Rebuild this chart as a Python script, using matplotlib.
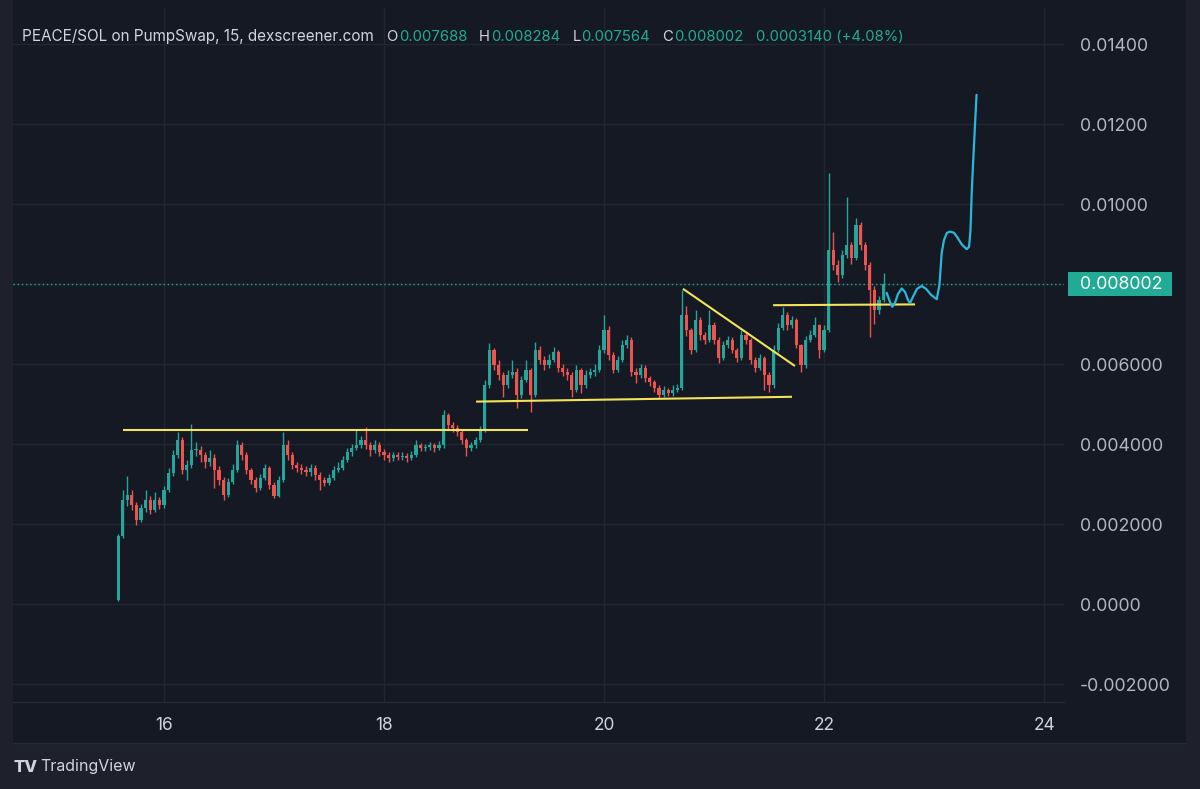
import numpy as np
import matplotlib
matplotlib.use("Agg")
import matplotlib.pyplot as plt
from matplotlib.patches import Rectangle
from matplotlib.transforms import blended_transform_factory

plt.rcParams['font.family'] = ['Inter', 'DejaVu Sans']

#region style
W, H = 1200, 789
BG_OUTER = '#1e212b'
BG_PANE = '#151924'
BORDER = '#262a35'
GRID = '#222631'
TEXT = '#d1d4dc'
AXIS_TEXT = '#b2b5be'
UP = '#26a69a'
DOWN = '#ef5350'
GREEN = '#22ab94'
YELLOW = '#f2e35b'
CYAN = '#2bb7d9'
#endregion

#region data
START_DAY = 15.58          # first hourly candle
FIRST_OPEN = 0.00010

closes = [
    0.00170, 0.00260, 0.00273, 0.00248, 0.00211, 0.00241, 0.00261, 0.00236, 0.00261, 0.00248,
    0.00286, 0.00329, 0.00373, 0.00411, 0.00336, 0.00348, 0.00386, 0.00386, 0.00373, 0.00356,
    0.00366, 0.00336, 0.00311, 0.00274, 0.00306, 0.00336, 0.00398, 0.00373, 0.00336, 0.00311,
    0.00291, 0.00316, 0.00341, 0.00298, 0.00271, 0.00311, 0.00398, 0.00373, 0.00348, 0.00341,
    0.00336, 0.00331, 0.00341, 0.00323, 0.00311, 0.00303, 0.00316, 0.00336, 0.00341, 0.00361,
    0.00381, 0.00391, 0.00398, 0.00411, 0.00398, 0.00386, 0.00398, 0.00381, 0.00373, 0.00366,
    0.00373, 0.00368, 0.00371, 0.00366, 0.00373, 0.00398, 0.00391, 0.00393, 0.00398, 0.00391,
    0.00398, 0.00473, 0.00448, 0.00441, 0.00431, 0.00411, 0.00391, 0.00398, 0.00411, 0.00436,
    0.00548, 0.00636, 0.00598, 0.00573, 0.00548, 0.00573, 0.00581, 0.00523, 0.00561, 0.00586,
    0.00523, 0.00636, 0.00611, 0.00598, 0.00611, 0.00631, 0.00591, 0.00581, 0.00573, 0.00536,
    0.00586, 0.00548, 0.00573, 0.00581, 0.00586, 0.00636, 0.00686, 0.00623, 0.00586, 0.00611,
    0.00648, 0.00661, 0.00581, 0.00573, 0.00591, 0.00566, 0.00556, 0.00541, 0.00523, 0.00536,
    0.00528, 0.00536, 0.00541, 0.00723, 0.00686, 0.00636, 0.00711, 0.00673, 0.00661, 0.00698,
    0.00661, 0.00616, 0.00648, 0.00661, 0.00636, 0.00616, 0.00673, 0.00661, 0.00611, 0.00591,
    0.00616, 0.00573, 0.00548, 0.00636, 0.00691, 0.00723, 0.00698, 0.00711, 0.00648, 0.00598,
    0.00661, 0.00673, 0.00698, 0.00636, 0.00686, 0.00886, 0.00848, 0.00823, 0.00873, 0.00898,
    0.00866, 0.00948, 0.00898, 0.00848, 0.00786, 0.00736, 0.00761, 0.00800,
]

highs = [
    0.00175, 0.00285, 0.00320, 0.00285, 0.00255, 0.00250, 0.00286, 0.00270, 0.00280, 0.00268,
    0.00295, 0.00340, 0.00385, 0.00430, 0.00418, 0.00360, 0.00450, 0.00405, 0.00395, 0.00380,
    0.00385, 0.00375, 0.00345, 0.00318, 0.00315, 0.00350, 0.00412, 0.00405, 0.00380, 0.00342,
    0.00318, 0.00325, 0.00352, 0.00345, 0.00305, 0.00320, 0.00430, 0.00410, 0.00380, 0.00356,
    0.00352, 0.00345, 0.00350, 0.00348, 0.00330, 0.00318, 0.00325, 0.00345, 0.00355, 0.00370,
    0.00392, 0.00402, 0.00436, 0.00422, 0.00444, 0.00405, 0.00410, 0.00405, 0.00388, 0.00380,
    0.00382, 0.00380, 0.00380, 0.00378, 0.00383, 0.00412, 0.00404, 0.00402, 0.00406, 0.00404,
    0.00408, 0.00486, 0.00478, 0.00455, 0.00448, 0.00436, 0.00415, 0.00405, 0.00418, 0.00445,
    0.00560, 0.00653, 0.00642, 0.00610, 0.00580, 0.00585, 0.00611, 0.00590, 0.00570, 0.00611,
    0.00592, 0.00656, 0.00645, 0.00620, 0.00625, 0.00643, 0.00636, 0.00600, 0.00590, 0.00580,
    0.00598, 0.00592, 0.00585, 0.00592, 0.00600, 0.00648, 0.00723, 0.00695, 0.00630, 0.00622,
    0.00660, 0.00673, 0.00668, 0.00592, 0.00600, 0.00598, 0.00572, 0.00562, 0.00548, 0.00545,
    0.00542, 0.00548, 0.00552, 0.00786, 0.00745, 0.00692, 0.00736, 0.00718, 0.00680, 0.00736,
    0.00705, 0.00668, 0.00658, 0.00672, 0.00668, 0.00642, 0.00686, 0.00680, 0.00666, 0.00618,
    0.00625, 0.00622, 0.00580, 0.00648, 0.00703, 0.00743, 0.00730, 0.00722, 0.00716, 0.00652,
    0.00672, 0.00685, 0.00718, 0.00702, 0.00698, 0.01078, 0.00930, 0.00860, 0.00885, 0.01018,
    0.00905, 0.00966, 0.00955, 0.00905, 0.00855, 0.00795, 0.00772, 0.00828,
]

lows = [
    0.00008, 0.00165, 0.00245, 0.00235, 0.00198, 0.00205, 0.00232, 0.00225, 0.00230, 0.00238,
    0.00242, 0.00280, 0.00320, 0.00365, 0.00325, 0.00310, 0.00340, 0.00370, 0.00355, 0.00340,
    0.00345, 0.00290, 0.00298, 0.00262, 0.00268, 0.00300, 0.00330, 0.00360, 0.00325, 0.00300,
    0.00280, 0.00285, 0.00310, 0.00288, 0.00265, 0.00268, 0.00305, 0.00360, 0.00338, 0.00330,
    0.00325, 0.00320, 0.00322, 0.00312, 0.00286, 0.00295, 0.00298, 0.00310, 0.00330, 0.00335,
    0.00355, 0.00372, 0.00385, 0.00390, 0.00388, 0.00372, 0.00378, 0.00372, 0.00362, 0.00356,
    0.00358, 0.00360, 0.00360, 0.00356, 0.00360, 0.00368, 0.00383, 0.00384, 0.00386, 0.00382,
    0.00385, 0.00392, 0.00436, 0.00430, 0.00420, 0.00402, 0.00370, 0.00384, 0.00392, 0.00405,
    0.00430, 0.00540, 0.00585, 0.00560, 0.00518, 0.00540, 0.00565, 0.00490, 0.00515, 0.00555,
    0.00480, 0.00518, 0.00600, 0.00585, 0.00590, 0.00605, 0.00580, 0.00570, 0.00560, 0.00518,
    0.00530, 0.00528, 0.00540, 0.00565, 0.00572, 0.00580, 0.00628, 0.00612, 0.00578, 0.00580,
    0.00605, 0.00640, 0.00572, 0.00553, 0.00565, 0.00555, 0.00545, 0.00530, 0.00515, 0.00518,
    0.00520, 0.00522, 0.00530, 0.00535, 0.00672, 0.00625, 0.00630, 0.00662, 0.00650, 0.00655,
    0.00650, 0.00603, 0.00610, 0.00640, 0.00628, 0.00605, 0.00610, 0.00650, 0.00600, 0.00580,
    0.00585, 0.00536, 0.00530, 0.00542, 0.00630, 0.00685, 0.00686, 0.00690, 0.00640, 0.00581,
    0.00592, 0.00655, 0.00668, 0.00616, 0.00630, 0.00680, 0.00835, 0.00806, 0.00815, 0.00865,
    0.00850, 0.00860, 0.00885, 0.00835, 0.00669, 0.00700, 0.00725, 0.00756,
]

# hand drawn trend lines: (day, price) start / end
trend_lines = [
    ((15.625, 0.00435), (19.306, 0.00435)),
    ((18.834, 0.00507), (21.706, 0.00519)),
    ((20.715, 0.00789), (21.733, 0.00596)),
    ((21.534, 0.00748), (22.825, 0.00750)),
]

# hand drawn projection path
proj_days = [22.567, 22.593, 22.618, 22.643, 22.670, 22.704, 22.734, 22.761, 22.779, 22.806,
             22.843, 22.885, 22.925, 22.970, 23.022, 23.047, 23.067, 23.088, 23.115, 23.143,
             23.179, 23.206, 23.252, 23.295, 23.316, 23.329, 23.340, 23.354, 23.370, 23.384]
proj_vals = [0.00779, 0.00759, 0.00744, 0.00754, 0.00776, 0.00790, 0.00781, 0.00761, 0.00753, 0.00769,
             0.00789, 0.00796, 0.00789, 0.00774, 0.00763, 0.00799, 0.00878, 0.00911, 0.00929, 0.00932,
             0.00929, 0.00919, 0.00899, 0.00888, 0.00894, 0.00936, 0.01029, 0.01111, 0.01199, 0.01274]

last_price = 0.008002

y_ticks = [0.014, 0.012, 0.010, 0.008, 0.006, 0.004, 0.002, 0.0, -0.002]
y_labels = ['0.01400', '0.01200', '0.01000', '', '0.006000', '0.004000', '0.002000', '0.0000', '-0.002000']
x_ticks = [16, 18, 20, 22, 24]
x_labels = ['16', '18', '20', '22', '24']

header_title = 'PEACE/SOL on PumpSwap, 15, dexscreener.com'
ohlc_names = ['O', 'H', 'L', 'C']
ohlc_values = ['0.007688', '0.008284', '0.007564', '0.008002']
change_text = '0.0003140 (+4.08%)'
#endregion

closes = np.array(closes)
highs = np.array(highs)
lows = np.array(lows)
opens = np.r_[FIRST_OPEN, closes[:-1]]
times = START_DAY + np.arange(len(closes)) / 24.0

fig = plt.figure(figsize=(W / 100, H / 100), dpi=100, facecolor=BG_OUTER)

# chart pane incl. price / time scales
fig.add_artist(Rectangle((13 / W, 1 - 743 / H), 1173 / W, 743 / H, transform=fig.transFigure,
                         facecolor=BG_PANE, edgecolor='none', zorder=0))
fig.add_artist(plt.Line2D([13 / W, 1186 / W], [1 - 743 / H, 1 - 743 / H], transform=fig.transFigure,
                          color=BORDER, linewidth=1, zorder=1))

ax = fig.add_axes([13 / W, 1 - 702 / H, 1051 / W, 694 / H])
ax.set_facecolor(BG_PANE)
ax.set_xlim(14.6245, 24.179)
ax.set_ylim(-0.00244, 0.01491)

for side in ['top', 'left', 'right']:
    ax.spines[side].set_visible(False)
ax.spines['bottom'].set_color(BORDER)
ax.spines['bottom'].set_linewidth(1)

ax.set_xticks(x_ticks)
ax.set_xticklabels(x_labels)
ax.set_yticks(y_ticks)
ax.set_yticklabels(y_labels)
ax.yaxis.tick_right()
ax.tick_params(axis='y', length=0, pad=11.5, labelsize=12.8, labelcolor=AXIS_TEXT)
ax.tick_params(axis='x', length=0, pad=11, labelsize=12.5, labelcolor=TEXT)
ax.grid(True, color=GRID, linewidth=1)
ax.set_axisbelow(True)

# candles
up = closes >= opens
colors = np.where(up, UP, DOWN)
ax.vlines(times, lows, highs, colors=colors, linewidth=1, zorder=2)
body_low = np.minimum(opens, closes)
body_h = np.maximum(np.abs(closes - opens), 0.00002)
ax.bar(times, body_h, bottom=body_low, width=0.7 / 24, color=colors, linewidth=0, zorder=3)

# trend lines
for (d0, p0), (d1, p1) in trend_lines:
    ax.plot([d0, d1], [p0, p1], color=YELLOW, linewidth=1.5, zorder=4, solid_capstyle='butt')

# projection path
ax.plot(proj_days, proj_vals, color=CYAN, linewidth=1.6, zorder=4,
        solid_joinstyle='round', solid_capstyle='round')

# last price line and label
ax.axhline(last_price, color=GREEN, linestyle=(0, (1, 2)), linewidth=1, zorder=1)
blend = blended_transform_factory(ax.transAxes, ax.transData)
ax.add_patch(Rectangle((1.0038, last_price - 0.0003), 0.099, 0.0006, transform=blend,
                       facecolor=GREEN, edgecolor='none', clip_on=False, zorder=5))
ax.text(1 + 16 / 1051, last_price, f'{last_price:.6f}', transform=blend, ha='left', va='center',
        color='white', fontsize=12.8, zorder=6, clip_on=False)

# header line, pieces chained one after another
renderer = fig.canvas.get_renderer()
header_y = 1 - 36.7 / H


def put(txt, x_px, color, size=11):
    t = fig.text(x_px / W, header_y, txt, color=color, fontsize=size, ha='left', va='center')
    return t.get_window_extent(renderer).x1


put(header_title, 22.5, TEXT)
x = 386.5
for name, val in zip(ohlc_names, ohlc_values):
    x = put(name, x, TEXT, 10.7) + 1
    x = put(val, x, GREEN, 10.7) + 12
put(change_text, x, GREEN, 10.7)

# TradingView watermark
fig.text(14 / W, 1 - 767 / H, 'TV', color=TEXT, fontsize=12, fontweight='heavy', ha='left', va='center')
fig.text(40 / W, 1 - 767 / H, 'TradingView', color=TEXT, fontsize=11.5, ha='left', va='center')

fig.savefig('out.png', dpi=100, facecolor=BG_OUTER)
